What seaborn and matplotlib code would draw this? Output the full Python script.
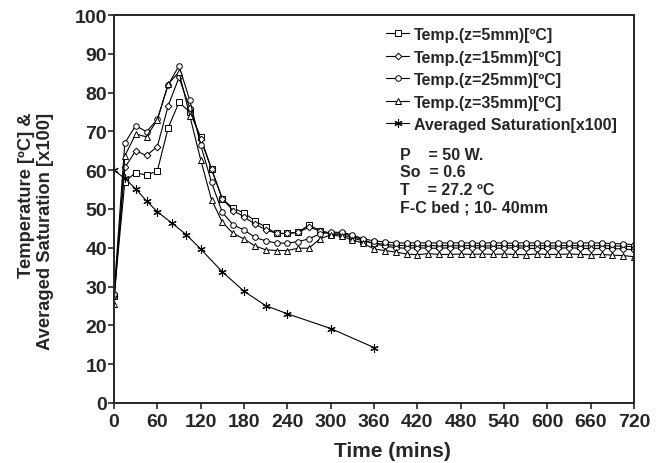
import numpy as np
import pandas as pd
import matplotlib
matplotlib.use("Agg")
import matplotlib.pyplot as plt
import seaborn as sns

# ---- data ----
time_temp = list(range(0, 721, 15))

temp_z5 = [27.5, 57.0, 59.4, 58.7, 59.8, 70.9, 77.5, 75.0, 68.5, 60.3, 52.6, 50.2, 49.0, 47.0, 45.3,
           43.7, 43.7, 44.0, 45.9, 44.4, 43.5, 43.5, 42.5, 41.8, 41.2,
           40.9, 40.6, 40.6, 40.5, 40.6, 40.5, 40.6, 40.5, 40.6, 40.5, 40.5, 40.6, 40.5, 40.5, 40.6,
           40.5, 40.5, 40.6, 40.5, 40.5, 40.6, 40.5, 40.4, 40.3]
temp_z15 = [27.5, 60.7, 65.0, 63.8, 66.1, 76.6, 83.9, 76.0, 68.0, 60.3, 52.6, 49.6, 48.0, 46.1, 44.7,
            43.7, 43.7, 44.0, 45.3, 44.4, 43.8, 43.8, 43.0, 42.0, 41.0,
            40.5, 40.0, 39.9, 40.0, 39.9, 39.9, 40.0, 39.9, 39.9, 40.0, 39.9, 39.9, 40.0, 39.9, 39.8,
            39.9, 39.9, 40.0, 39.9, 39.8, 39.9, 39.8, 39.7, 39.5]
temp_z25 = [28.0, 67.0, 71.5, 69.9, 73.1, 82.0, 86.9, 78.0, 66.5, 56.9, 49.1, 45.9, 44.6, 42.7, 41.8,
            41.2, 41.2, 41.6, 42.3, 43.6, 44.0, 44.0, 43.3, 42.3, 41.8,
            41.5, 41.3, 41.2, 41.3, 41.2, 41.3, 41.2, 41.3, 41.2, 41.2, 41.3, 41.2, 41.2, 41.3, 41.2,
            41.2, 41.3, 41.2, 41.2, 41.3, 41.2, 41.1, 41.0, 40.8]
temp_z35 = [25.5, 63.7, 69.3, 68.6, 73.0, 82.2, 85.3, 74.0, 62.7, 52.4, 46.6, 43.7, 42.3, 40.5, 39.5,
            39.3, 39.3, 39.9, 39.9, 42.3, 43.3, 43.0, 42.0, 41.2, 39.7,
            39.3, 38.9, 38.4, 38.2, 38.5, 38.3, 38.3, 38.4, 38.3, 38.4, 38.3, 38.4, 38.3, 38.2, 38.4,
            38.3, 38.3, 38.4, 38.3, 38.2, 38.3, 38.1, 38.0, 37.7]

time_sat = [0, 15, 30, 45, 60, 80, 100, 120, 150, 180, 210, 240, 300, 360]
saturation = [60.0, 57.9, 55.2, 52.1, 49.3, 46.4, 43.4, 39.7, 33.8, 28.8, 25.1, 23.0, 19.2, 14.3]

labels = ["Temp.(z=5mm)[ºC]", "Temp.(z=15mm)[ºC]", "Temp.(z=25mm)[ºC]",
          "Temp.(z=35mm)[ºC]", "Averaged Saturation[x100]"]
x_ticks = list(range(0, 721, 60))
y_ticks = list(range(0, 101, 10))

# ---- style ----
sns.set_style("ticks")
plt.rcParams['font.family'] = ['Liberation Sans', 'DejaVu Sans']
plt.rcParams['font.weight'] = 'bold'

W, H = 664, 464
fig = plt.figure(figsize=(W/100, H/100), dpi=100)
ax = fig.add_axes([114/W, 1 - 404/H, (634-114)/W, (404-16)/H])

series = [(temp_z5, 's'), (temp_z15, 'D'), (temp_z25, 'o'), (temp_z35, '^')]
for (vals, mk), lab in zip(series, labels[:4]):
    df = pd.DataFrame({"t": time_temp, "v": vals})
    ms = 4.0 if mk != 'D' else 3.4
    sns.lineplot(data=df, x="t", y="v", ax=ax, color="black", linewidth=0.8,
                 marker=mk, markersize=ms, markerfacecolor="white",
                 markeredgecolor="black", markeredgewidth=0.7, label=lab)

dfs = pd.DataFrame({"t": time_sat, "v": saturation})
sns.lineplot(data=dfs, x="t", y="v", ax=ax, color="black", linewidth=0.8,
             marker=(6, 2, 0), markersize=6, markeredgecolor="black",
             markeredgewidth=0.8, label=labels[4])

ax.set_xlim(0, 720)
ax.set_ylim(0, 100)
ax.set_xticks(x_ticks)
ax.set_yticks(y_ticks)
ax.tick_params(axis='x', direction='out', length=4, width=1.2, labelsize=14, pad=3)
ax.tick_params(axis='y', direction='out', length=4, width=1.2, labelsize=14, pad=1)
for lab in ax.get_xticklabels() + ax.get_yticklabels():
    lab.set_fontweight('bold')
for s in ax.spines.values():
    s.set_linewidth(1.4)
    s.set_visible(True)

ax.set_xlabel("Time (mins)", fontsize=15, fontweight='bold')
ax.xaxis.set_label_coords((392-114)/520, -(461-404)/388)
ax.xaxis.label.set_va('bottom')
ax.set_ylabel("")
fig.text(36/W, 1 - 231/H, "Temperature [ºC] &\nAveraged Saturation [x100]",
         fontsize=13.2, fontweight='bold', rotation=90, ha='center', va='center',
         multialignment='right', linespacing=1.15)

leg = ax.legend(loc='upper left', bbox_to_anchor=(386/W, 1 - 28/H),
                bbox_transform=fig.transFigure, frameon=False,
                fontsize=11.5, handlelength=1.45, handletextpad=0.3,
                labelspacing=0.47, borderaxespad=0, borderpad=0)
for t in leg.get_texts():
    t.set_fontweight('bold')

ann = "P    = 50 W.\nSo  = 0.6\nT    = 27.2 ºC\nF-C bed ; 10- 40mm"
fig.text(400/W, 1 - 148/H, ann, fontsize=11.5, fontweight='bold',
         va='top', ha='left', linespacing=1.2)

fig.savefig("out.png", dpi=100)
